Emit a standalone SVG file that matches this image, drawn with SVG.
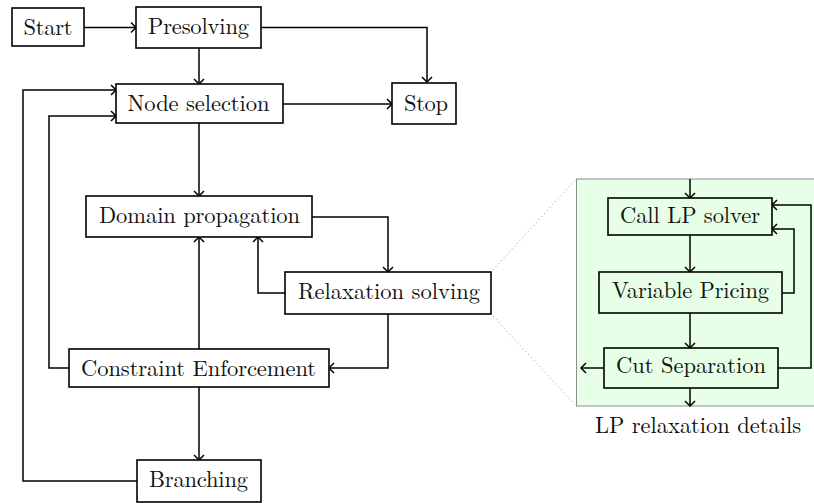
<svg xmlns="http://www.w3.org/2000/svg" width="814" height="503" viewBox="0 0 814 503">
<style>
.box{fill:#fff;stroke:#000;stroke-width:1.6}
.pbox{fill:#e6ffe6;stroke:#000;stroke-width:1.6}
.lbl{font-size:22.5px;fill:#111;text-anchor:middle}
.c{fill:none;stroke:#000;stroke-width:1.5;marker-end:url(#ah)}
</style>
<defs>
<marker id="ah" markerUnits="userSpaceOnUse" markerWidth="14" markerHeight="14" viewBox="-7 -7 14 14" refX="0" refY="0" orient="auto">
<path d="M-5,-5 Q-1.2,-1.2 0,0 Q-1.2,1.2 -5,5" fill="none" stroke="#000" stroke-width="1.5"/>
</marker>
</defs>
<rect id="panel" x="576.5" y="179" width="238" height="227" fill="#e6ffe6" stroke="#8c8c8c" stroke-width="1"/>
<g id="zoomlines" stroke="#999" stroke-width="1" stroke-dasharray="1 3" fill="none">
<line x1="493" y1="270" x2="576" y2="179"/>
<line x1="493" y1="316" x2="576" y2="406"/>
</g>
<g id="connectors">
<path class="c" d="M84,27.5 H136"/>
<path class="c" d="M261,27.5 H427 V82"/>
<path class="c" d="M199,48 V84"/>
<path class="c" d="M283,104 H392"/>
<path class="c" d="M199,123 V196"/>
<path class="c" d="M312,217 H388 V272"/>
<path class="c" d="M285,293 H258 V237"/>
<path class="c" d="M388,314 V368 H329"/>
<path class="c" d="M199,349 V237"/>
<path class="c" d="M69,368 H49 V116 H116"/>
<path class="c" d="M199,387 V460"/>
<path class="c" d="M137,481 H23 V90 H116"/>
<path class="c" d="M690,179 V198"/>
<path class="c" d="M690,235 V272"/>
<path class="c" d="M782,293 H794 V229 H772"/>
<path class="c" d="M690,313 V348"/>
<path class="c" d="M778,368 H811 V205 H772"/>
<path class="c" d="M604,368 H581"/>
<path class="c" d="M690,388 V406"/>
</g>
<g font-family="Latin Modern Roman, Tinos, serif">
<g id="start"><rect class="box" x="12" y="8" width="72" height="38"/><text class="lbl" x="48" y="34.5" textLength="49">Start</text></g>
<g id="presolving"><rect class="box" x="136" y="7" width="125" height="41"/><text class="lbl" x="198.5" y="34" textLength="101">Presolving</text></g>
<g id="stop"><rect class="box" x="392" y="83" width="64" height="41"/><text class="lbl" x="426" y="110.5" textLength="44">Stop</text></g>
<g id="nodesel"><rect class="box" x="116" y="84" width="167" height="39"/><text class="lbl" x="198.5" y="110.7" textLength="142">Node selection</text></g>
<g id="domprop"><rect class="box" x="86" y="196" width="226" height="41"/><text class="lbl" x="199.5" y="222.5" textLength="201">Domain propagation</text></g>
<g id="relax"><rect class="box" x="285" y="272" width="206" height="42"/><text class="lbl" x="389" y="298.5" textLength="182">Relaxation solving</text></g>
<g id="constraint"><rect class="box" x="69" y="349" width="260" height="38"/><text class="lbl" x="198.5" y="376" textLength="235">Constraint Enforcement</text></g>
<g id="branching"><rect class="box" x="137" y="460" width="124" height="42"/><text class="lbl" x="198.5" y="487.3" textLength="99">Branching</text></g>
<g id="calllp"><rect class="pbox" x="608" y="198" width="164" height="37"/><text class="lbl" x="690" y="223.3" textLength="140">Call LP solver</text></g>
<g id="varpricing"><rect class="pbox" x="599" y="272" width="183" height="41"/><text class="lbl" x="690.5" y="298.3" textLength="157">Variable Pricing</text></g>
<g id="cutsep"><rect class="pbox" x="604" y="348" width="174" height="40"/><text class="lbl" x="691" y="372.7" textLength="150">Cut Separation</text></g>
<text class="lbl" x="698" y="433" textLength="206">LP relaxation details</text>
</g>
</svg>
